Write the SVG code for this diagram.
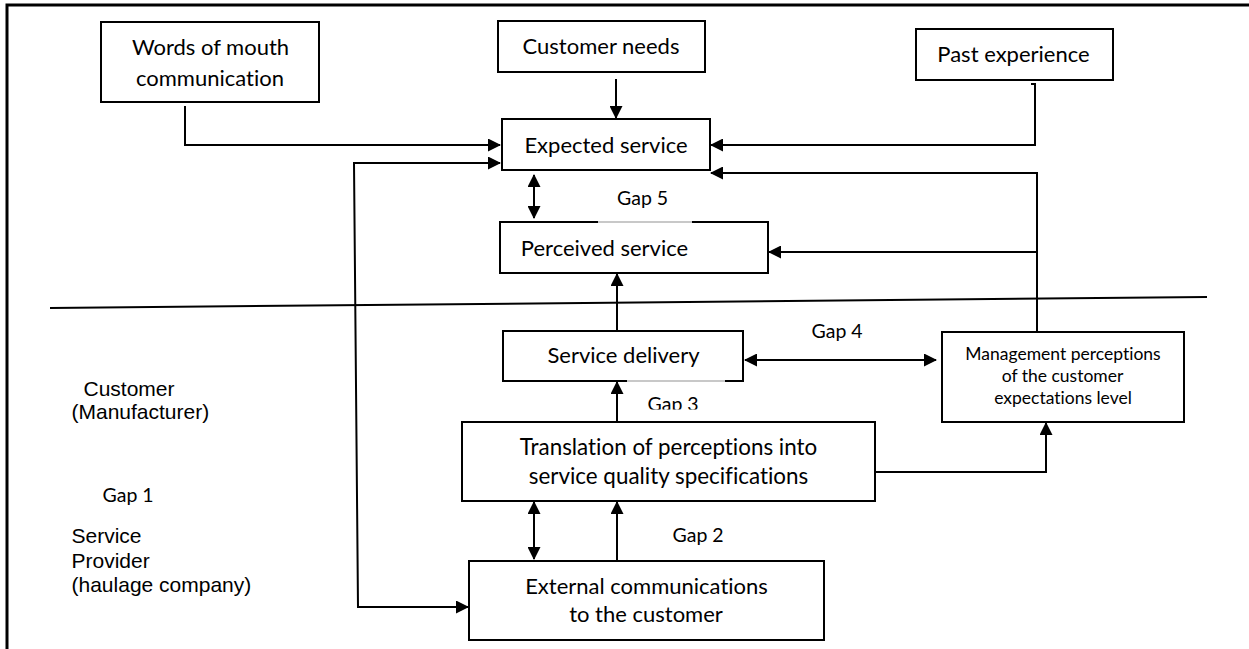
<svg xmlns="http://www.w3.org/2000/svg" width="1249" height="649" viewBox="0 0 1249 649">
  <style>
    text { font-variant-ligatures: none; }
    .box { fill: #fff; stroke: #000; stroke-width: 2; }
    .lbl { font-family: Lato, "Open Sans", sans-serif; font-size: 22px; fill: #000; text-anchor: middle; }
    .wide { font-size: 22.4px; }
    .small { font-family: Lato, "Open Sans", sans-serif; font-size: 17.5px; fill: #000; text-anchor: middle; }
    .gap { font-family: Lato, "Open Sans", sans-serif; font-size: 19.5px; fill: #000; }
    .side { font-family: "Liberation Sans", Arial, sans-serif; font-size: 21px; fill: #000; }
    .wire { fill: none; stroke: #000; stroke-width: 2; }
    .faint { stroke: #c8c8c8; stroke-width: 2; }
  </style>
  <defs>
    <marker id="arr" viewBox="0 0 13 13" markerWidth="13" markerHeight="13" refX="12" refY="6.5" orient="auto-start-reverse" markerUnits="userSpaceOnUse">
      <path d="M0,0 L13,6.5 L0,13 z" fill="#000"/>
    </marker>
    <clipPath id="gap3clip">
      <rect x="600" y="380" width="120" height="29.5"/>
    </clipPath>
  </defs>

  <rect width="1249" height="649" fill="#fff"/>

  <!-- frame: top and left edges -->
  <path d="M7,649 V5 H1249" fill="none" stroke="#000" stroke-width="3"/>

  <!-- customer / provider divider -->
  <path d="M50,308 L1207,297" fill="none" stroke="#000" stroke-width="2"/>

  <g id="connectors">
    <path class="wire" d="M185,106 V145 H500" marker-end="url(#arr)"/>
    <path class="wire" d="M616,79 V118" marker-end="url(#arr)"/>
    <path class="wire" d="M1031,84 H1035 V145 H711" marker-end="url(#arr)"/>
    <path class="wire" d="M1037,332 V173 H711" marker-end="url(#arr)"/>
    <path class="wire" d="M1037,252 H769" marker-end="url(#arr)"/>
    <path class="wire" d="M534,175 V218" marker-start="url(#arr)" marker-end="url(#arr)"/>
    <path class="wire" d="M617,331 V274" marker-end="url(#arr)"/>
    <path class="wire" d="M745,360 H936" marker-start="url(#arr)" marker-end="url(#arr)"/>
    <path class="wire" d="M617,422 V382" marker-end="url(#arr)"/>
    <path class="wire" d="M875,472 H1046 V423" marker-end="url(#arr)"/>
    <path class="wire" d="M534,502 V559" marker-start="url(#arr)" marker-end="url(#arr)"/>
    <path class="wire" d="M617,561 V502" marker-end="url(#arr)"/>
    <path class="wire" d="M500,163 H354 L358,607 H468" marker-start="url(#arr)" marker-end="url(#arr)"/>
  </g>

  <g id="words-of-mouth">
    <rect class="box" x="101" y="22" width="218" height="80"/>
    <text class="lbl" x="210.5" y="55">Words of mouth</text>
    <text class="lbl" x="210" y="86">communication</text>
  </g>

  <g id="customer-needs">
    <rect class="box" x="498" y="21" width="207" height="51"/>
    <text class="lbl" x="601" y="54">Customer needs</text>
  </g>

  <g id="past-experience">
    <rect class="box" x="916" y="29" width="197" height="51"/>
    <text class="lbl" x="1013.5" y="61.5">Past experience</text>
  </g>

  <g id="expected-service">
    <rect class="box" x="502" y="119" width="208" height="51"/>
    <text class="lbl" x="606" y="153">Expected service</text>
  </g>

  <g id="perceived-service">
    <rect class="box" x="500" y="222" width="268" height="51"/>
    <line class="faint" x1="598" y1="222" x2="692" y2="222"/>
    <text class="lbl" x="604.5" y="256">Perceived service</text>
  </g>

  <g id="service-delivery">
    <rect class="box" x="503" y="331" width="240" height="50"/>
    <line class="faint" x1="627" y1="381" x2="725" y2="381"/>
    <text class="lbl" x="623.5" y="363">Service delivery</text>
  </g>

  <g id="management-perceptions">
    <rect class="box" x="942" y="332" width="242" height="90"/>
    <text class="small" x="1063" y="360">Management perceptions</text>
    <text class="small" x="1062.5" y="382">of the customer</text>
    <text class="small" x="1063" y="404">expectations level</text>
  </g>

  <g id="translation">
    <rect class="box" x="462" y="422" width="413" height="79"/>
    <text class="lbl wide" x="668.5" y="455">Translation of perceptions into</text>
    <text class="lbl wide" x="668.5" y="483.5">service quality specifications</text>
  </g>

  <g id="external-communications">
    <rect class="box" x="469" y="561" width="355" height="79"/>
    <text class="lbl" x="646.5" y="593.5">External communications</text>
    <text class="lbl" x="646" y="622">to the customer</text>
  </g>

  <g id="gap-labels">
    <text class="gap" x="617" y="205">Gap 5</text>
    <text class="gap" x="811.5" y="338">Gap 4</text>
    <text class="gap" x="647.5" y="410.5" clip-path="url(#gap3clip)">Gap 3</text>
    <text class="gap" x="672.5" y="542">Gap 2</text>
    <text class="gap" x="102.5" y="502">Gap 1</text>
  </g>

  <g id="side-labels">
    <text class="side" x="83.5" y="396">Customer</text>
    <text class="side" x="71.5" y="419">(Manufacturer)</text>
    <text class="side" x="71.5" y="543">Service</text>
    <text class="side" x="71.5" y="567.5">Provider</text>
    <text class="side" x="71.5" y="592">(haulage company)</text>
  </g>
</svg>
